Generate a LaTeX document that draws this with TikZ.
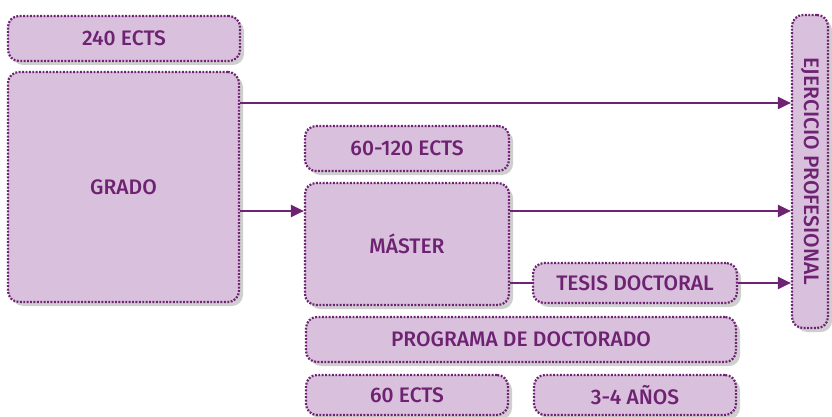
\documentclass[tikz,border=0pt]{standalone}
\usepackage{fontspec}
\setmainfont{Fira Sans Medium}
\usetikzlibrary{arrows.meta,shadows}
\definecolor{boxfill}{HTML}{D9C0DC}
\definecolor{plum}{HTML}{6E2272}
\definecolor{shade}{HTML}{CFCFCF}
\tikzset{
  boxtext/.style={text=plum, font=\fontsize{21}{23}\selectfont},
  box/.style={draw=plum, fill=boxfill, line width=2.2pt, dash pattern=on 1.9pt off 1.5pt,
    rounded corners=11pt, boxtext, inner sep=0pt,
    drop shadow={shadow xshift=4pt, shadow yshift=-4pt, fill=shade, opacity=1}},
  arr/.style={draw=plum, line width=2.2pt, -{Triangle[length=13pt,width=12pt]}},
  link/.style={draw=plum, line width=2.2pt}
}
\begin{document}
\begin{tikzpicture}[x=1pt,y=-1pt]
\useasboundingbox (0,0) rectangle (832,417);
\node[box, minimum width=232pt, minimum height=45pt] (e240) at (124,38.5) {240 ECTS};
\node[box, minimum width=231pt, minimum height=230pt] (grado) at (123.5,187) {GRADO};
\node[box, minimum width=204pt, minimum height=45pt] (e60120) at (407,148.5) {60-120 ECTS};
\node[box, minimum width=204pt, minimum height=122pt] (master) at (407,244) {MÁSTER};
\node[box, minimum width=204pt, minimum height=40pt] (tesis) at (635,283) {TESIS DOCTORAL};
\node[box, minimum width=430pt, minimum height=45pt] (prog) at (521,339.5) {PROGRAMA DE DOCTORADO};
\node[box, minimum width=202pt, minimum height=40pt] (e60) at (407,395) {60 ECTS};
\node[box, minimum width=202pt, minimum height=40pt] (anos) at (635,395) {3-4 AÑOS};
\node[box, minimum width=36pt, minimum height=313pt] (ejer) at (810,171.5) {};
\node[boxtext, rotate=-90] (ejerlabel) at (ejer.center) {EJERCICIO PROFESIONAL};
\draw[arr] (grado.east |- 0,103) -- (ejer.west |- 0,103);
\draw[arr] (grado.east |- 0,211) -- (master.west |- 0,211);
\draw[arr] (master.east |- 0,211) -- (ejer.west |- 0,211);
\draw[link] (master.east |- tesis.west) -- (tesis.west);
\draw[arr] (tesis.east) -- (ejer.west |- tesis.east);
\end{tikzpicture}
\end{document}
